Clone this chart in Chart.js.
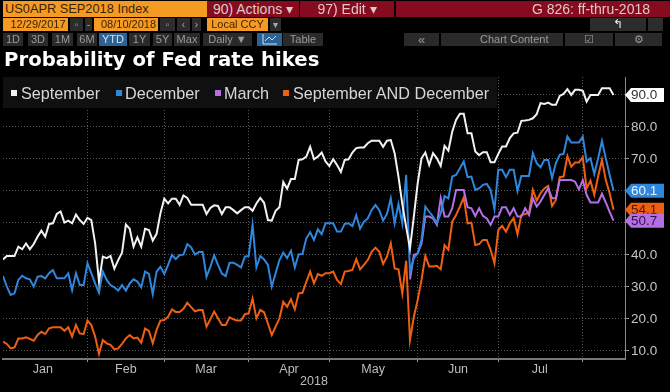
<!DOCTYPE html>
<html>
<head>
<meta charset="utf-8">
<script src="https://cdn.jsdelivr.net/npm/chart.js@4"></script>
<style>
  html, body { margin: 0; padding: 0; background: #000; }
  #page { position: relative; width: 670px; height: 392px; overflow: hidden; background: #000; font-family: "Liberation Sans", sans-serif; filter: blur(0.45px); }
  #page canvas { position: absolute; left: 0; top: 0; }
  .b { position: absolute; box-sizing: border-box; white-space: nowrap; text-align: center; overflow: hidden; }
  .or { background: #f59a23; color: #3a2408; font-size: 11px; height: 13px; line-height: 13px; top: 18px; }
  .gr { background: #2a2a2a; color: #9a9a9a; font-size: 11px; height: 13px; line-height: 13px; top: 33px; }
  .ic { background: #2c2c2c; color: #aaa; font-size: 10px; height: 13px; line-height: 13px; top: 18px; }
  .rd { background: #860b1e; color: #ddc9c9; font-size: 14px; height: 16px; line-height: 16px; top: 1px; }
  #title { position: absolute; left: 4px; top: 47px; color: #fff; font: bold 19.7px "DejaVu Sans", sans-serif; line-height: 26px; white-space: nowrap; }
  #legend { position: absolute; left: 3px; top: 77px; width: 494px; height: 31px; background: #101010; color: #d6d6d6; font-size: 16.2px; line-height: 33px; white-space: nowrap; }
  #legend i { position: absolute; top: 13px; width: 6px; height: 6px; }
  #legend span { position: absolute; top: 0; }
</style>
</head>
<body>
<div id="page">
  <canvas id="chart" width="670" height="392"></canvas>

  <div class="b" style="left:3px;top:1px;width:204px;height:16px;line-height:16px;background:#f59a23;color:#3a2408;font-size:12.8px;text-align:left;padding-left:2px">US0APR SEP2018 Index</div>
  <div class="b rd" style="left:207px;width:92px">90) Actions ▾</div>
  <div class="b rd" style="left:300px;width:94px">97) Edit ▾</div>
  <div class="b rd" style="left:396px;width:274px;text-align:right;padding-right:20px">G 826: ff-thru-2018</div>

  <div class="b or" style="left:3px;width:65px;padding-left:5px">12/29/2017</div>
  <div class="b ic" style="left:70px;width:13px">▫</div>
  <div class="b" style="left:85px;top:18px;width:7px;height:13px;background:#2c2c2c;color:#aaa;font-size:10px;line-height:13px">-</div>
  <div class="b or" style="left:94px;width:64px;padding-left:5px">08/10/2018</div>
  <div class="b ic" style="left:160px;width:15px">▫</div>
  <div class="b ic" style="left:177px;width:13px">‹</div>
  <div class="b ic" style="left:192px;width:9px">›</div>
  <div class="b or" style="left:207px;width:61px">Local CCY</div>
  <div class="b ic" style="left:270px;width:11px">▾</div>
  <div class="b ic" style="left:590px;width:56px;color:#eee;font-size:12px">↰</div>
  <div class="b ic" style="left:648px;width:15px"></div>

  <div class="b gr" style="left:3px;width:20px">1D</div>
  <div class="b gr" style="left:28px;width:20px">3D</div>
  <div class="b gr" style="left:52px;width:21px">1M</div>
  <div class="b gr" style="left:77px;width:20px">6M</div>
  <div class="b gr" style="left:99px;width:28px;background:#2b6395;color:#cfe0f0">YTD</div>
  <div class="b gr" style="left:129px;width:21px">1Y</div>
  <div class="b gr" style="left:153px;width:19px">5Y</div>
  <div class="b gr" style="left:174px;width:26px">Max</div>
  <div class="b gr" style="left:203px;width:49px">Daily ▼</div>
  <div class="b gr" style="left:257px;width:25px;background:#2b6395;color:#cfe0f0">
    <svg width="16" height="11" viewBox="0 0 16 11" style="display:block;margin:1px auto 0"><path d="M1 0V10H15M3 7L7 3L10 6L14 2" fill="none" stroke="#cfe0f0"/></svg>
  </div>
  <div class="b gr" style="left:283px;width:40px">Table</div>
  <div class="b gr" style="left:404px;width:35px;font-size:13px">«</div>
  <div class="b gr" style="left:441px;width:122px">&nbsp;&nbsp;&nbsp;&nbsp;&nbsp;&nbsp;&nbsp;&nbsp;Chart Content</div>
  <div class="b gr" style="left:565px;width:48px">☑</div>
  <div class="b gr" style="left:615px;width:47px">⚙</div>

  <div id="title">Probability of Fed rate hikes</div>
  <div id="legend"></div>
</div>

<script>
const september = [
  38.6, 39.7, 39.7, 39.7, 42.6, 41.8, 43.6, 41.8, 43.4, 45.7, 47.6, 45.7, 49.7, 49.9, 52.8, 53.6, 50.1, 50.7, 49.9, 52.6,
  50.9, 49.7, 51.6, 50.9, 43.6, 31.7, 39.5, 39, 39.7, 35.7, 38.4, 40.7, 49.5, 48.2, 42.6, 45.5, 42.6, 48.2, 47.8, 44.5,
  46.6, 53, 57.6, 56.1, 57.6, 57.6, 55.7, 58.6, 57.8, 55.7, 55.7, 55.7, 55.7, 52.8, 54.7, 55.5, 55.3,
  52.8, 54.9, 54.9, 54, 53, 54, 54.9, 54.9, 53.8, 56.1, 57.8, 56.3, 50.9, 50.7, 53.8, 54.9, 62.8, 60.7, 63.7,
  63.7, 69.7, 69.9, 70.7, 73.8, 69.9, 70.7, 72, 69.2, 67.8, 69.9, 68.1, 65.9, 69.7, 69.9, 72, 73.4, 73.6, 73.6, 74.9,
  75.7, 75.7, 75.7, 73.8, 75.7, 75.9, 71.8, 64.5, 55.9, 48.8, 42.1, 52, 62.4, 70.2, 72, 68.1, 71.8, 70.2, 67.8, 74.1,
  72.6, 78.5, 82.2, 84.1, 84.1, 78, 78, 72.3, 71.2, 72.1, 72.1, 69, 69, 71.6, 73.9, 73.9, 76.5, 78, 78.2, 81.9,
  82, 82.2, 82.7, 84, 87.4, 87.2, 87.6, 86.9, 86.9, 89.7, 90.3, 91.8, 90, 91.6, 91.6, 91.3, 87.9, 90, 90, 90,
  92.1, 92.1, 92.1, 90
];
const december = [
  33.4, 30.1, 27.5, 28, 32.2, 33.5, 32.7, 32.4, 30.1, 33.2, 33.4, 32.7, 34.3, 35.3, 32.7, 32.7, 32.7, 34.3, 29, 34.3,
  30.6, 30.6, 37.4, 34.3, 31.1, 28.2, 34.8, 32.2, 30.6, 29.9, 28.9, 30.6, 28.9, 31.1, 32.4, 31.7, 29.9, 34.8, 34.1, 27.8,
  34.8, 36.3, 34.1, 36.9, 40, 38.7, 40, 40.1, 43.4, 42.4, 40.1, 40.9, 40.9, 33.2, 36.3, 39.9, 36.9,
  34.2, 33.4, 37.6, 37.6, 36.9, 36.1, 39.5, 39.7, 49.4, 36.1, 39.7, 38.6, 36.9, 30.1, 34.3, 38.4, 40.7, 39, 41.3,
  36.1, 40.2, 40.3, 45.2, 47.1, 44.7, 48, 46.5, 49.9, 49.9, 49.9, 47.3, 47.3, 49.7, 49.9, 49, 52.4, 48.2, 50.4, 51.4,
  54, 55.6, 54, 50.7, 52.8, 57.7, 49.9, 55.9, 49.9, 65, 34.8, 39, 40.5, 44.7, 55.1, 53.5, 52, 49.9, 53, 58.4,
  57.7, 64.5, 65, 67.1, 69.2, 64.3, 64.5, 60.3, 60.8, 61.9, 62.2, 60.3, 54.3, 66.6, 66.6, 64.3, 66.6, 66.6, 60, 64.7,
  64.7, 64.7, 71.8, 68.7, 67.4, 69.7, 69.7, 64, 68.7, 71.3, 71.6, 77, 75.1, 75.1, 75.1, 77, 69.2, 70.2, 65.3, 70.2,
  75.6, 70.2, 65, 60.1
];
// March contract only starts trading in late May
const marchGap = 106;
const march = [
  32.4, 40, 40.5, 43.6, 52, 52, 51.4, 49.4, 57.7, 52, 52, 54.6, 60.3, 60.3, 60.3, 54.9, 54.6, 52.2, 54.6, 52.2,
  51.4, 49.4, 52, 52, 54.9, 54.9, 52.5, 54.6, 52, 52, 54.6, 52.5, 57.7, 55.1, 56.7, 58.8, 60.8, 57.7, 57.7, 63.4,
  63.4, 63.4, 63.4, 62.9, 60.5, 63.4, 58.8, 56.4, 56.4, 56.4, 59.1, 56.4, 53.5, 50.7
];
const sepAndDec = [
  12.9, 12.2, 10.8, 11.1, 13.9, 13.9, 14.3, 13.8, 13.2, 15, 16, 15.3, 17.1, 17.4, 17.4, 17.4, 16.3, 17.4, 14.5, 18.1,
  15.5, 15.3, 19.5, 18.1, 14.5, 9.1, 13.4, 12.4, 11.9, 10.5, 10.8, 12.2, 13.9, 15, 13.9, 14.2, 12.6, 17, 16.3, 12.4,
  16.6, 19.5, 19.7, 20.7, 23, 22.2, 22.2, 23.2, 25.1, 23.7, 22.4, 22.8, 22.8, 17.6, 19.9, 22.3, 20.2,
  18.1, 18.1, 20.5, 19.9, 19.5, 19.5, 21.5, 21.8, 26.4, 20.2, 22.8, 22.1, 18.6, 15, 17.6, 20.2, 25.4, 23.8, 26.1,
  23, 28, 28.2, 31.6, 34.8, 31.1, 34, 33.5, 34.3, 34.3, 34.8, 32.2, 30.9, 34.8, 35, 35.3, 38.7, 35.5, 36.9, 38.4,
  41, 42.3, 41, 37.2, 39.5, 43.6, 35.8, 35.5, 28, 38.2, 13.4, 20.7, 25.9, 32.2, 39.7, 36.4, 36.4, 36.6, 35.5, 43.1,
  41.6, 50.4, 52.5, 55.1, 58, 49.9, 50.1, 43.1, 43.4, 44.7, 44.7, 41.6, 37.4, 47.8, 49.1, 47.3, 49.9, 51.5, 46.5, 52.5,
  52.8, 53.2, 60.3, 57, 59.3, 60.8, 61.6, 55.3, 57.2, 64.3, 64.5, 70.9, 67.6, 68.9, 68.9, 70.5, 60.8, 63.2, 58.8, 64.5,
  69.7, 63.4, 59.3, 54.1
];

const seriesNames = ['September', 'December', 'March', 'September AND December'];
const seriesColors = ['#f2f2f2', '#2f86dd', '#b56fe6', '#ee5f12'];
const lastValues = [90.0, 60.1, 50.7, 54.1];
const tagText = ['#333', '#e8f2fb', '#2d1440', '#4a1a00'];
const yTicks = [10, 20, 30, 40, 50, 60, 70, 80, 90];
const monthNames = ['Jan', 'Feb', 'Mar', 'Apr', 'May', 'Jun', 'Jul'];
const monthCentres = [10.4, 32, 52.9, 74.5, 96.4, 118.5, 139.8];   // trading-day index of each label
const monthEdges = [22, 42, 64, 85, 108, 129, 151];                // trading-day index of month ends

const labels = september.map((_, i) => i);
const marchFull = new Array(marchGap).fill(null).concat(march);
const allSeries = [september, december, marchFull, sepAndDec];

// legend box is plain html, built from the same names and colours
const legendPos = [[8, 18], [113, 122], [212, 221], [280, 290]];
const legend = document.getElementById('legend');
seriesNames.forEach((name, i) => {
  const sw = document.createElement('i');
  sw.style.left = legendPos[i][0] + 'px';
  sw.style.background = seriesColors[i];
  const tx = document.createElement('span');
  tx.style.left = legendPos[i][1] + 'px';
  tx.textContent = name;
  legend.append(sw, tx);
});

// last price tags on the right axis, orange goes under purple like on the terminal
const priceTags = {
  id: 'priceTags',
  afterDraw(chart) {
    const { ctx, scales: { y }, chartArea } = chart;
    const left = chartArea.right + 3;
    ctx.save();
    ctx.font = '13.5px "Liberation Sans", sans-serif';
    ctx.textBaseline = 'middle';
    [0, 1, 3, 2].forEach(i => {
      const yy = y.getPixelForValue(lastValues[i]);
      ctx.fillStyle = seriesColors[i] === '#f2f2f2' ? '#fff' : seriesColors[i];
      ctx.beginPath();
      ctx.moveTo(left - 3, yy);
      ctx.lineTo(left + 3, yy - 7);
      ctx.lineTo(664, yy - 7);
      ctx.lineTo(664, yy + 7);
      ctx.lineTo(left + 3, yy + 7);
      ctx.closePath();
      ctx.fill();
      ctx.fillStyle = tagText[i];
      ctx.fillText(lastValues[i].toFixed(1), left + 3, yy + 0.5);
    });
    ctx.restore();
  }
};

new Chart(document.getElementById('chart').getContext('2d'), {
  type: 'line',
  data: {
    labels,
    datasets: seriesNames.map((name, i) => ({
      label: name,
      data: allSeries[i],
      borderColor: seriesColors[i],
      borderWidth: 2,
      pointRadius: 0,
      tension: 0,
      spanGaps: false,
    })),
  },
  options: {
    responsive: false,
    animation: false,
    layout: { padding: { left: 3, top: 77, right: 0, bottom: 0 } },
    plugins: { legend: { display: false }, title: { display: false }, tooltip: { enabled: false } },
    scales: {
      x: {
        type: 'linear',
        min: 0,
        max: 162,
        afterBuildTicks: scale => {
          scale.ticks = monthCentres.concat(monthEdges).map(value => ({ value }));
        },
        afterFit: scale => { scale.height = 33; },
        grid: {
          drawOnChartArea: true,
          color: c => (c.tick && monthEdges.includes(c.tick.value) ? '#5a5a5a' : 'transparent'),
          lineWidth: 1,
          tickLength: 3,
          tickColor: c => (c.tick && monthEdges.includes(c.tick.value) ? '#999' : 'transparent'),
        },
        border: { color: '#777', width: 2, dash: [1, 2] },
        ticks: {
          autoSkip: false,
          maxRotation: 0,
          padding: 0,
          color: '#bdbdbd',
          font: { family: '"Liberation Sans", sans-serif', size: 12.5 },
          callback: value => {
            const i = monthCentres.indexOf(value);
            return i >= 0 ? monthNames[i] : '';
          },
        },
        title: {
          display: true,
          text: '2018',
          color: '#bdbdbd',
          padding: { top: -1, bottom: 3 },
          font: { family: '"Liberation Sans", sans-serif', size: 12.5 },
        },
      },
      y: {
        position: 'right',
        min: 7.5,
        max: 95.6,
        afterBuildTicks: scale => {
          scale.ticks = yTicks.map(value => ({ value }));
        },
        afterFit: scale => { scale.width = 45; },
        grid: { color: '#5a5a5a', lineWidth: 1, tickLength: 4, tickColor: '#999' },
        border: { color: '#8a8a8a', width: 1, dash: [1, 2] },
        ticks: {
          padding: 2,
          color: '#c4c4c4',
          font: { family: '"Liberation Sans", sans-serif', size: 13.5 },
          callback: value => value.toFixed(1),
        },
      },
    },
  },
  plugins: [priceTags],
});
</script>
</body>
</html>
